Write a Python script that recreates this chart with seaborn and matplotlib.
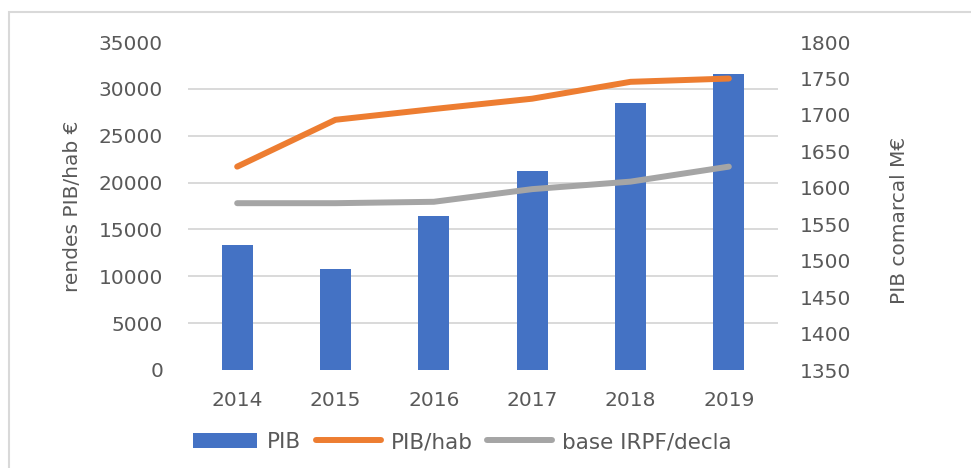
import numpy as np
import pandas as pd
from matplotlib import pyplot as plt
from matplotlib.patches import Rectangle
import seaborn as sns

# Dades llegides del gràfic
anys = [2014, 2015, 2016, 2017, 2018, 2019]
pib = [1522, 1488, 1561, 1623, 1716, 1756]            # PIB comarcal M€ (eix dret)
pib_hab = [21700, 26700, 27850, 28950, 30750, 31100]  # PIB/hab € (eix esquerre)
base_irpf = [17800, 17800, 17950, 19300, 20100, 21700]  # base IRPF/decla €

COL_PIB = '#4472C4'
COL_HAB = '#ED7D31'
COL_IRPF = '#A5A5A5'
COL_TEXT = '#595959'
COL_GRID = '#D9D9D9'

sns.set_theme(style='white')
plt.rcParams['font.family'] = ['DejaVu Sans']
plt.rcParams['font.size'] = 14.5

df = pd.DataFrame({'any': anys, 'PIB': pib, 'PIB/hab': pib_hab, 'base IRPF/decla': base_irpf})

fig = plt.figure(figsize=(9.71, 4.68), dpi=100)
ax = fig.add_axes([188 / 971, 1 - 370 / 468, 590 / 971, 328 / 468])
ax2 = ax.twinx()

# barres (PIB) a l'eix de baix, escala dreta
sns.barplot(data=df, x='any', y='PIB', color=COL_PIB, saturation=1, width=0.315,
            linewidth=0, label='PIB', ax=ax)
ax.set_ylim(1350, 1800)
ax.set_yticks(np.arange(1350, 1801, 50))
# línies de graella alineades amb l'eix esquerre
ax.set_yticks(np.linspace(1350, 1800, 8), minor=True)
ax.grid(which='minor', axis='y', color=COL_GRID, linewidth=1.4)
ax.grid(which='major', axis='y', visible=False)
ax.set_axisbelow(True)

# línies a l'eix de dalt, escala esquerra
pos = np.arange(len(anys))
sns.lineplot(x=pos, y=df['PIB/hab'], color=COL_HAB, linewidth=4.3, label='PIB/hab',
             ax=ax2, solid_capstyle='round')
sns.lineplot(x=pos, y=df['base IRPF/decla'], color=COL_IRPF, linewidth=4.3,
             label='base IRPF/decla', ax=ax2, solid_capstyle='round')
ax2.set_ylim(0, 35000)
ax2.set_yticks(np.arange(0, 35001, 5000))
ax2.grid(False)
ax.set_xlim(-0.5, len(anys) - 0.5)

# canvi de costats: barres a la dreta, línies a l'esquerra
ax.yaxis.tick_right()
ax.yaxis.set_label_position('right')
ax2.yaxis.tick_left()
ax2.yaxis.set_label_position('left')

for a in (ax, ax2):
    for s in a.spines.values():
        s.set_visible(False)
    a.tick_params(length=0, colors=COL_TEXT, labelsize=14.5)
    a.set_xlabel('')

ax.tick_params(axis='y', which='minor', length=0, labelright=False, labelleft=False)
ax.tick_params(axis='y', which='major', labelright=True, labelleft=False, pad=16)
ax.tick_params(axis='x', pad=15)
ax2.tick_params(axis='y', labelleft=True, labelright=False, pad=18)

ax2.set_ylabel('rendes PIB/hab €', color=COL_TEXT, fontsize=14.5)
ax2.yaxis.set_label_coords(-0.18, 0.5)
ax.set_ylabel('PIB comarcal M€', color=COL_TEXT, fontsize=14.5)
ax.yaxis.set_label_coords(1.19, 0.457)

# llegenda conjunta
h1, l1 = ax.get_legend_handles_labels()
h2, l2 = ax2.get_legend_handles_labels()
for a in (ax, ax2):
    if a.get_legend() is not None:
        a.get_legend().remove()
leg = fig.legend(h1 + h2, l1 + l2, loc='center', bbox_to_anchor=(462 / 971, 1 - 442 / 468),
                 ncol=3, frameon=False, handlelength=3.0, handletextpad=0.45,
                 columnspacing=0.7, fontsize=15.5)
for t in leg.get_texts():
    t.set_color(COL_TEXT)

# marc del gràfic
top = 1 - 11.7 / 468
fig.add_artist(Rectangle((9 / 971, -0.2), 1.2, top + 0.2, transform=fig.transFigure,
                         fill=False, edgecolor=COL_GRID, linewidth=1.5))

fig.savefig('out.png', dpi=100)
plt.close(fig)
